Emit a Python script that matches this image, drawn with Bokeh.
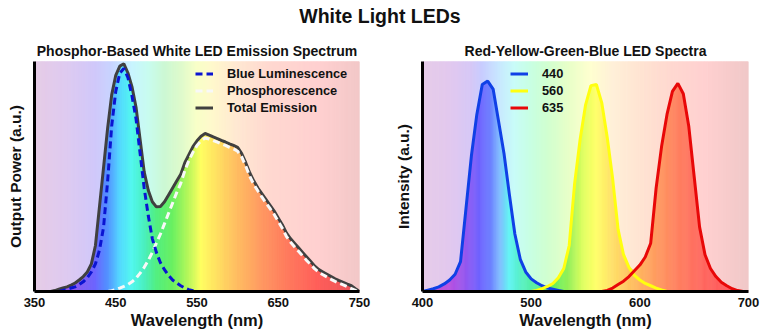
import numpy as np
from bokeh.plotting import figure
from bokeh.models import Range1d, Legend, LegendItem, Div, FixedTicker
from bokeh.layouts import column, row
from bokeh.embed import file_html
from bokeh.resources import INLINE

# ---------------- data ----------------
main_title = "White Light LEDs"
left_title = "Phosphor-Based White LED Emission Spectrum"
right_title = "Red-Yellow-Green-Blue LED Spectra"
left_xticks = [350, 450, 550, 650, 750]
right_xticks = [400, 500, 600, 700]

# Left chart: wavelength (nm) and output power (a.u.)
total_wl = list(range(370, 755, 5))
total_vals = [0.0, 0.004, 0.01, 0.015, 0.02, 0.028, 0.037, 0.05, 0.065, 0.085,
              0.12, 0.2, 0.37, 0.54, 0.71, 0.855, 0.94, 0.98, 0.99, 0.95,
              0.89, 0.80, 0.66, 0.52, 0.44, 0.39, 0.368, 0.37, 0.39, 0.42,
              0.45, 0.48, 0.51, 0.56, 0.595, 0.63, 0.655, 0.675, 0.687, 0.68,
              0.672, 0.665, 0.657, 0.65, 0.642, 0.635, 0.627, 0.60, 0.56, 0.515,
              0.48, 0.45, 0.425, 0.4, 0.375, 0.35, 0.32, 0.29, 0.255, 0.23,
              0.21, 0.19, 0.17, 0.15, 0.13, 0.11, 0.095, 0.085, 0.075, 0.065,
              0.055, 0.047, 0.04, 0.032, 0.025, 0.012, 0.0]
blue_wl = list(range(380, 555, 5))
blue_vals = [0.0, 0.005, 0.01, 0.015, 0.02, 0.03, 0.042, 0.06, 0.085, 0.12,
             0.18, 0.28, 0.48, 0.72, 0.87, 0.95, 0.97, 0.93, 0.85, 0.75,
             0.6, 0.45, 0.33, 0.23, 0.17, 0.125, 0.095, 0.07, 0.05, 0.037,
             0.025, 0.015, 0.008, 0.003, 0.0]
phos_wl = list(range(440, 755, 5))
phos_vals = [0.0, 0.003, 0.008, 0.015, 0.022, 0.03, 0.042, 0.058, 0.08, 0.105,
             0.135, 0.17, 0.21, 0.25, 0.295, 0.34, 0.385, 0.43, 0.47, 0.525,
             0.57, 0.605, 0.635, 0.655, 0.667, 0.663, 0.656, 0.649, 0.642, 0.635,
             0.627, 0.62, 0.61, 0.585, 0.545, 0.5, 0.465, 0.437, 0.41, 0.385,
             0.36, 0.335, 0.305, 0.275, 0.24, 0.215, 0.195, 0.175, 0.155, 0.135,
             0.117, 0.098, 0.083, 0.073, 0.063, 0.053, 0.044, 0.036, 0.029, 0.021,
             0.013, 0.005, 0.0]

# Right chart: wavelength (nm) and intensity (a.u.)
b440_wl = list(range(400, 535, 5))
b440_vals = [0.0, 0.006, 0.012, 0.02, 0.033, 0.05, 0.075, 0.13, 0.36, 0.59,
             0.77, 0.9, 0.915, 0.88, 0.74, 0.6, 0.42, 0.25, 0.14, 0.085,
             0.055, 0.038, 0.025, 0.015, 0.01, 0.005, 0.0]
y560_wl = list(range(500, 630, 5))
y560_vals = [0.0, 0.005, 0.012, 0.022, 0.035, 0.06, 0.1, 0.2, 0.47, 0.66,
             0.81, 0.895, 0.9, 0.82, 0.67, 0.49, 0.27, 0.16, 0.105, 0.07,
             0.05, 0.035, 0.025, 0.015, 0.007, 0.0]
r635_wl = list(range(565, 700, 5))
r635_vals = [0.0, 0.005, 0.015, 0.03, 0.045, 0.065, 0.09, 0.115, 0.15, 0.21,
             0.45, 0.63, 0.77, 0.87, 0.905, 0.86, 0.72, 0.5, 0.28, 0.16,
             0.1, 0.065, 0.04, 0.025, 0.012, 0.004, 0.0]

# ---------------- styles ----------------
FONT = "Liberation Sans"
left_bg_stops = ([350, 390, 425, 445, 470, 490, 510, 530, 550, 570, 600, 640, 700, 750],
                 ["#E6CCE6", "#DECAF0", "#D0C8FA", "#C8D4FF", "#C8F4FF", "#C8FCF0", "#CCF8D4",
                  "#DDFACC", "#F8FFC8", "#FFF8CC", "#FFE8D2", "#FFD8D0", "#FFD0D0", "#F2C8C8"])
left_fill_stops = ([370, 400, 425, 440, 455, 470, 485, 500, 520, 540, 555, 575, 600, 630, 660, 700, 750],
                   ["#A050E0", "#8A58F0", "#6A64FF", "#5090FF", "#50D8FF", "#50F8F0", "#48F0C0",
                    "#50F080", "#68F060", "#B8F858", "#FFFF60", "#FFE060", "#FFBC60", "#FF9860",
                    "#FF7A5C", "#FF5C58", "#E85058"])
right_bg_stops = ([400, 425, 445, 455, 470, 485, 500, 515, 535, 555, 575, 600, 630, 660, 700],
                  ["#E6CCE8", "#E2C8EE", "#D6C8F6", "#C8CCFF", "#C8E6FF", "#C8FCF8", "#C8FFE2",
                   "#D0FFD0", "#E8FFC8", "#FFFFD0", "#FFF0D8", "#FFE4D2", "#FFD8D0", "#FFD0D0", "#F0C8C8"])
right_fill_stops = ([400, 425, 440, 452, 462, 472, 480, 490, 505, 520, 535, 548, 560, 575, 595, 615, 635, 655, 680, 700],
                    ["#C858C8", "#B850E0", "#9458F0", "#7062FF", "#6C7CFF", "#80C0FF", "#60F4F4",
                     "#58F0C8", "#58F098", "#60F060", "#98F058", "#E0FF60", "#FFFF68", "#FFE068",
                     "#FFBC60", "#FF9C60", "#FF8060", "#FF6A60", "#FF5A5C", "#F05060"])


def color_at(stops, w):
    ws, hexes = stops
    rgb = np.array([[int(h[i:i + 2], 16) for i in (1, 3, 5)] for h in hexes], dtype=float)
    r = np.interp(w, ws, rgb[:, 0])
    g = np.interp(w, ws, rgb[:, 1])
    b = np.interp(w, ws, rgb[:, 2])
    return "#%02x%02x%02x" % (int(round(r)), int(round(g)), int(round(b)))


def base_fig(xr, xticks, title, ylabel, mb_left, mb_right):
    p = figure(width=388, height=306, x_range=Range1d(*xr), y_range=Range1d(0, 1.0),
               output_backend="svg", toolbar_location=None, title=title,
               min_border_left=mb_left, min_border_right=mb_right,
               min_border_top=31, min_border_bottom=45)
    p.title.align = "center"
    p.title.text_font = FONT
    p.title.text_font_size = "14px"
    p.title.text_font_style = "bold"
    p.title.text_color = "#111111"
    p.title.standoff = 6
    p.xgrid.grid_line_color = None
    p.ygrid.grid_line_color = None
    p.outline_line_color = None
    p.background_fill_color = "white"
    p.border_fill_color = "white"

    xa = p.xaxis[0]
    xa.ticker = FixedTicker(ticks=xticks)
    xa.axis_line_width = 3
    xa.axis_line_color = "black"
    xa.major_tick_line_color = None
    xa.minor_tick_line_color = None
    xa.major_tick_out = 0
    xa.major_tick_in = 0
    xa.major_label_standoff = 6
    xa.major_label_text_font = FONT
    xa.major_label_text_font_size = "13px"
    xa.major_label_text_font_style = "bold"
    xa.major_label_text_color = "#111111"
    xa.axis_label = "Wavelength (nm)"
    xa.axis_label_text_font = FONT
    xa.axis_label_text_font_size = "16.5px"
    xa.axis_label_text_font_style = "bold"
    xa.axis_label_text_color = "#111111"
    xa.axis_label_standoff = 1

    ya = p.yaxis[0]
    ya.ticker = FixedTicker(ticks=[])
    ya.axis_line_width = 3
    ya.axis_line_color = "black"
    ya.major_tick_line_color = None
    ya.minor_tick_line_color = None
    ya.major_tick_out = 0
    ya.major_tick_in = 0
    ya.axis_label = ylabel
    ya.axis_label_text_font = FONT
    ya.axis_label_text_font_size = "15.5px"
    ya.axis_label_text_font_style = "bold"
    ya.axis_label_text_color = "#111111"
    ya.axis_label_standoff = 11
    return p


def draw_background(p, xr, stops):
    lefts = np.arange(xr[0], xr[1], 1.0)
    rights = lefts + 1.0
    cols = [color_at(stops, w + 0.5) for w in lefts]
    p.quad(left=lefts, right=rights, bottom=0, top=1.0, fill_color=cols,
           line_color=cols, line_width=1)


def draw_fill(p, wl, vals, stops, nsub=5):
    # colour slices under the drawn polyline (each slice follows the straight segment)
    xs, ys, cols = [], [], []
    for i in range(len(wl) - 1):
        x0, x1, v0, v1 = wl[i], wl[i + 1], vals[i], vals[i + 1]
        for k in range(nsub):
            t0, t1 = k / nsub, (k + 1) / nsub
            a, b = x0 + (x1 - x0) * t0, x0 + (x1 - x0) * t1
            ya, yb = v0 + (v1 - v0) * t0, v0 + (v1 - v0) * t1
            xs.append([a, a, b, b])
            ys.append([0, ya, yb, 0])
            cols.append(color_at(stops, 0.5 * (a + b)))
    p.patches(xs, ys, fill_color=cols, line_color=cols, line_width=0.6)


def make_legend(p, items, loc):
    lg = Legend(items=items, location=loc, border_line_color=None,
                background_fill_alpha=0, padding=0, margin=0, spacing=2,
                glyph_width=18, glyph_height=15, label_height=15, label_standoff=14,
                label_text_font=FONT, label_text_font_size="12.8px",
                label_text_font_style="bold", label_text_color="#111111")
    p.add_layout(lg)


# ---------------- left chart ----------------
p1 = base_fig((350, 750), left_xticks, left_title, "Output Power (a.u.)", 34, 29)
draw_background(p1, (350, 750), left_bg_stops)
draw_fill(p1, total_wl, total_vals, left_fill_stops)
r_total = p1.line(total_wl, total_vals, line_color="#404040", line_width=3)
r_phos = p1.line(phos_wl, phos_vals, line_color="#F8F8F8", line_width=3, line_dash="7 4")
r_blue = p1.line(blue_wl, blue_vals, line_color="#0A14D2", line_width=3, line_dash="7 4")
make_legend(p1, [LegendItem(label="Blue Luminescence", renderers=[r_blue]),
                 LegendItem(label="Phosphorescence", renderers=[r_phos]),
                 LegendItem(label="Total Emission", renderers=[r_total])], (161, 176))

# ---------------- right chart ----------------
p2 = base_fig((400, 700), right_xticks, right_title, "Intensity (a.u.)", 34, 28)
draw_background(p2, (400, 700), right_bg_stops)
grid = list(range(400, 705, 5))
series = [(b440_wl, b440_vals), (y560_wl, y560_vals), (r635_wl, r635_vals)]
env = []
for w in grid:
    m = 0.0
    for sw, sv in series:
        if w in sw:
            m = max(m, sv[sw.index(w)])
    env.append(m)
draw_fill(p2, grid, env, right_fill_stops)
r_b = p2.line(b440_wl, b440_vals, line_color="#1040E6", line_width=3)
r_y = p2.line(y560_wl, y560_vals, line_color="#FFFF10", line_width=3)
r_r = p2.line(r635_wl, r635_vals, line_color="#E80808", line_width=3)
make_legend(p2, [LegendItem(label="440", renderers=[r_b]),
                 LegendItem(label="560", renderers=[r_y]),
                 LegendItem(label="635", renderers=[r_r])], (88, 176))

title_div = Div(text=('<div style="width:760px;text-align:center;font-family:\'Liberation Sans\',Arial,sans-serif;'
                      'font-weight:bold;font-size:19.5px;line-height:33px;color:#111">%s</div>' % main_title),
                width=776, height=30, margin=(0, 0, 0, 0))

layout = column(title_div, row(p1, p2))
open("out.html", "w").write(file_html(layout, INLINE))
